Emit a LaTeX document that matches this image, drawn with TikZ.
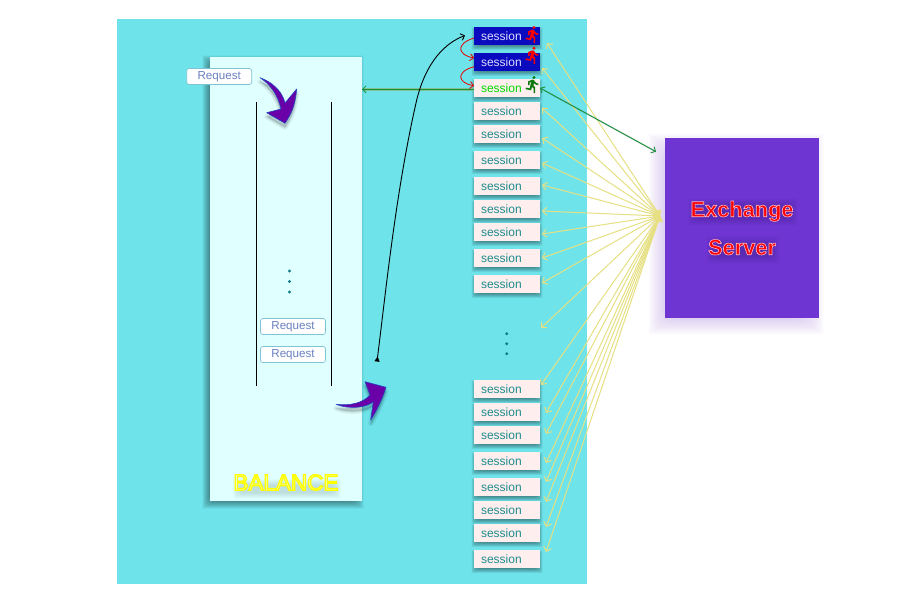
\documentclass[tikz,border=0pt]{standalone}
\usepackage{fontspec}
\setmainfont{Liberation Sans}
\usetikzlibrary{arrows.meta,calc}
\definecolor{bgcyan}{HTML}{6EE3EA}
\definecolor{panelc}{HTML}{E0FFFF}
\definecolor{serverc}{HTML}{6F35D3}
\definecolor{sessfill}{HTML}{FFEEEE}
\definecolor{sesstext}{HTML}{1E8C8C}
\definecolor{activeblue}{HTML}{0A0ABE}
\definecolor{activetext}{HTML}{DDDDFF}
\definecolor{reqborder}{HTML}{7FC4D6}
\definecolor{reqtext}{HTML}{6A80C0}
\definecolor{yline}{HTML}{E6E083}
\definecolor{darkgreen}{HTML}{17903C}
\definecolor{runnergreen}{HTML}{0F7A0F}
\definecolor{flowpurple}{HTML}{6A00A8}
\definecolor{flowedge}{HTML}{2244C0}
\definecolor{dotc}{HTML}{0B7F85}
\newcommand{\outlinedtext}[4]{\special{pdf:code 2 Tr #1 RG #2 rg #3 w}#4\special{pdf:code 0 Tr}}
% soft shadow: stack of translucent rounded rectangles
% {x1}{y1}{x2}{y2}{colour}{radius}{opacity per layer}
\newcommand{\softrect}[7]{%
  \foreach \k in {-1,-.8,-.6,-.4,-.2,0,.2,.4,.6,.8,1}{%
    \pgfmathsetmacro{\rr}{#6*\k}%
    \pgfmathsetmacro{\rc}{max(#6-\rr,0.1)}%
    \fill[#5,opacity=#7,rounded corners=\rc pt] (#1-\rr,#2-\rr) rectangle (#3+\rr,#4+\rr);
  }}
\tikzset{
  sessbase/.style={minimum width=66pt,minimum height=18pt,inner sep=0pt,outer sep=0pt,font=\fontsize{12}{14}\selectfont},
  sessbox/.style={sessbase,fill=sessfill,text=sesstext},
  sessactive/.style={sessbase,fill=activeblue,text=activetext},
  sessgreen/.style={sessbase,fill=sessfill,text=green!85!black},
  reqbox/.style={draw=reqborder,fill=white,rounded corners=2.5pt,line width=.7pt,minimum width=65pt,minimum height=16pt,inner sep=0pt,text=reqtext,font=\fontsize{11.6}{14}\selectfont},
  yarrow/.style={draw=yline,line width=1pt,{Straight Barb[length=4pt,width=8pt]}-{Straight Barb[length=4pt,width=8pt]}},
  redarrow/.style={draw=red!90!black,line width=.8pt,-{Straight Barb[length=3.5pt,width=7pt]}},
  queueline/.style={draw=black,line width=1pt},
  flow/.style={fill=flowpurple,draw=flowedge,line width=.6pt,line join=round},
  flowshade/.style={draw=black,fill=black,opacity=.05,line join=round},
  pics/runner/.style={code={
    \fill[#1] (15.49,3.48) arc[start angle=0,end angle=360,radius=2];
    \fill[#1] (9.89,19.38) -- (10.89,14.98) -- (12.99,16.98) -- (12.99,22.98) -- (14.99,22.98) -- (14.99,15.48) -- (12.89,13.48) -- (13.49,10.48)
      .. controls (14.79,11.98) and (16.79,12.98) .. (18.99,12.98) -- (18.99,10.98)
      .. controls (17.09,10.98) and (15.49,9.98) .. (14.69,8.58) -- (13.69,6.98)
      .. controls (13.29,6.38) and (12.69,5.98) .. (11.99,5.98)
      .. controls (11.69,5.98) and (11.49,6.08) .. (11.19,6.08) -- (5.99,8.28) -- (5.99,12.98) -- (7.99,12.98) -- (7.99,9.58) -- (9.79,8.88) -- (8.19,16.98) -- (3.29,15.98) -- (2.89,17.98) -- cycle;
  }}
}
\newcommand{\sesslabel}{\makebox[66pt][l]{\hspace{7pt}session}}
\newcommand{\flowa}{(260,77.7) .. controls (277,84) and (283,95) .. (285,103) -- (296.7,89) .. controls (295,105) and (292,113) .. (285,123.3) -- (266.7,112.7) -- (281,109) .. controls (278,95) and (270,84) .. cycle}
\newcommand{\flowb}{(336,404.3) .. controls (350,406) and (363,403) .. (370,395) -- (365,381.7) -- (386,387.3) .. controls (382,400) and (376,412) .. (370.7,420) -- (373.3,401.7) .. controls (368,407) and (350,410) .. cycle}
\begin{document}
\begin{tikzpicture}[x=1pt,y=-1pt]
\useasboundingbox (0,0) rectangle (912,595);
\fill[white] (0,0) rectangle (912,595);
\fill[bgcyan] (117,19) rectangle (587,584);
% balance panel
\softrect{207}{60}{359}{504}{black}{4.5}{.05}
\node[fill=panelc,minimum width=152pt,minimum height=444pt,inner sep=0pt,outer sep=0pt] (panel) at (286,279) {};
% queue
\draw[queueline] (256.3,102) -- (256.3,386);
\draw[queueline] (331.3,102) -- (331.3,386);
\foreach \yy in {271,281.5,292} \fill[dotc] (289.5,\yy) circle[radius=1.6];
\foreach \yy in {333.7,343.7,353.7} \fill[dotc] (506.7,\yy) circle[radius=1.6];
\node[reqbox] (r1) at (219.2,76.5) {Request};
\node[reqbox] (r2) at (293,326.5) {Request};
\node[reqbox] (r3) at (293,354.5) {Request};
% flow arrows
\foreach \w in {5,3,1}{
  \path[flowshade,line width=\w pt,shift={(0,4)}] \flowa;
  \path[flowshade,line width=\w pt,shift={(0,4)}] \flowb;
}
\path[flow] \flowa;
\path[flow] \flowb;
% sessions
\foreach \yy in {36,62,88,111,134,160,186,209,232,258,284,389,412,435,461,487,510,533,559}{
  \pgfmathsetmacro{\ya}{\yy-9+2.5}\pgfmathsetmacro{\yb}{\yy+9+2.5}
  \softrect{474}{\ya}{540}{\yb}{black}{2.5}{.045}
}
\node[sessactive] (s1) at (507,36) {\sesslabel};
\node[sessactive] (s2) at (507,62) {\sesslabel};
\node[sessgreen] (s3) at (507,88) {\sesslabel};
\foreach \n/\yy in {4/111,5/134,6/160,7/186,8/209,9/232,10/258,11/284,12/389,13/412,14/435,15/461,16/487,17/510,18/533,19/559}
  \node[sessbox] (s\n) at (507,\yy) {\sesslabel};
\pic at (523.2,24.8) [scale=.8] {runner=red};
\pic at (523.2,45.5) [scale=.8] {runner=red};
\pic at (523.2,74.8) [scale=.8] {runner=runnergreen};
% server
\softrect{659}{144}{813}{324}{serverc}{10}{.028}
\node[fill=serverc,minimum width=154pt,minimum height=180pt,inner sep=0pt,outer sep=0pt] (server) at (742,228) {};
\softrect{692}{202}{794}{222}{black}{4}{.012}
\softrect{710}{240}{776}{260}{black}{4}{.012}
\node[align=center,font=\fontsize{21.8}{38}\selectfont\bfseries] (servertext) at (742,228) {\outlinedtext{1 0.72 0.78}{1 0 0}{0.6}{Exchange}\\\outlinedtext{1 0.72 0.78}{1 0 0}{0.6}{Server}};
\softrect{236}{482}{338}{496}{black}{3}{.012}
\node[font=\fontsize{22.5}{26}\selectfont] (balance) at (286,482.5) {\outlinedtext{1 1 0}{0.93 1 0.9}{1.3}{BALANCE}};
% yellow fan
\coordinate (hub) at (660,216);
\foreach \n/\xx/\yy in {a/547/43,b/542/68,c/542/108,d/542/138,e/542/163,f/542/185,g/542/211,h/542/234,i/542/258,j/542/283,k/541/328,l/541/385,m/546/413,n/546/434,o/546/463,p/546/482,q/546/502,r/546/527,s/546/552}{
  \coordinate (y\n) at (\xx,\yy);
  \draw[yarrow] (hub) -- (y\n);
}
% green arrows
\coordinate (gend) at (656,151.7);
\draw[draw=gray,opacity=.25,line width=1.6pt,shift={(0,2.5)}] (s3.east) -- (gend);
\draw[darkgreen,line width=.9pt,{Straight Barb[length=3.5pt,width=7pt]}-{Straight Barb[length=3.5pt,width=7pt]}] (s3.east) -- (gend);
\coordinate (gleft) at ([yshift=-1.3pt]s3.west);
\draw[darkgreen!55,line width=2.4pt] (gleft) -- ([xshift=1pt]gleft -| panel.east);
\draw[darkgreen,line width=.8pt,-{Straight Barb[length=3.5pt,width=7pt]}] (gleft) -- (gleft -| panel.east);
% black curve
\coordinate (cstart) at (377,361.5);
\coordinate (cend) at (465,35.5);
\draw[black,line width=.9pt,{Triangle[reversed,length=5pt,width=5pt]}-{Straight Barb[length=3.5pt,width=7pt]}] (cstart) .. controls (386,290) and (396,190) .. (416.7,100) .. controls (426,62) and (445,43) .. (cend);
% red hand-over
\draw[redarrow] ([yshift=-2pt]s1.west) .. controls (455,44) and (458,55) .. ([yshift=4pt]s2.west);
\draw[redarrow] ([yshift=-4.7pt]s2.west) .. controls (455,72) and (458,83) .. ([yshift=2.3pt]s3.west);
\end{tikzpicture}
\end{document}
